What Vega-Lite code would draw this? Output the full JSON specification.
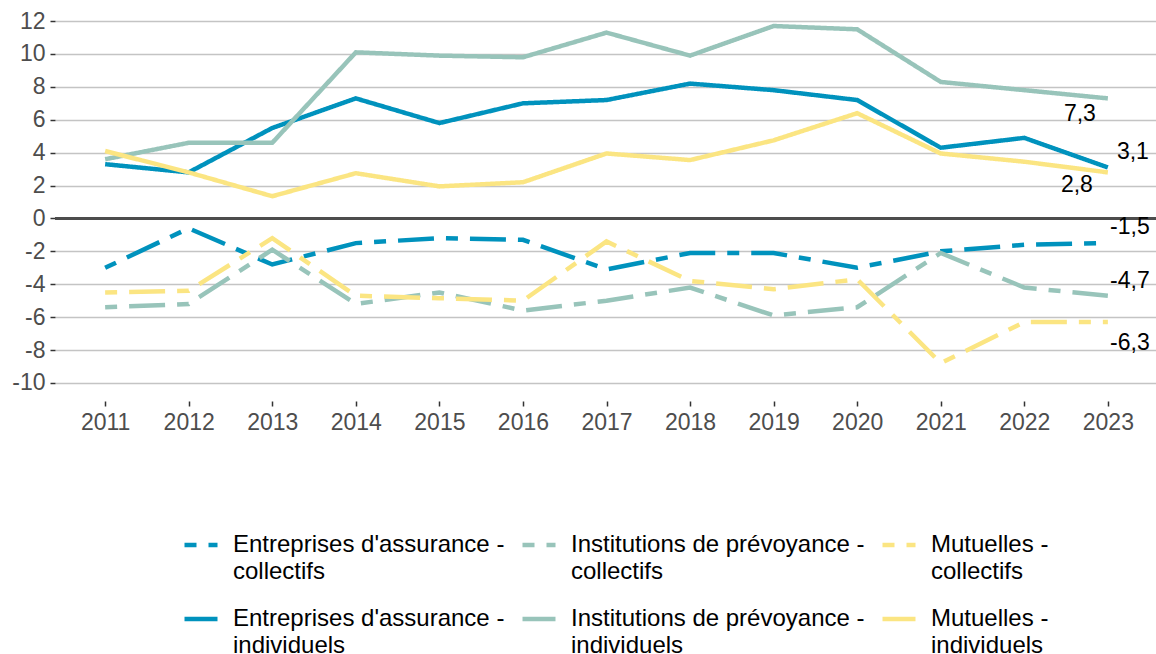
{
  "$schema": "https://vega.github.io/schema/vega-lite/v6.json",
  "width": 1103,
  "height": 398,
  "autosize": {"type": "none"},
  "padding": {"left": 55, "top": 3, "right": 0, "bottom": 253},
  "background": "white",
  "config": {
    "font": "Liberation Sans",
    "view": {"stroke": null},
    "axis": {"domain": false, "labelFont": "Liberation Sans", "labelColor": "#4D4D4D", "labelFontSize": 23, "tickColor": "#333333", "tickSize": 5, "tickWidth": 1.5, "titleFontSize": 0}
  },
  "datasets": {
    "d": [
      {"serie": "Entreprises d'assurance - collectifs", "annee": 2011, "valeur": -3.0},
      {"serie": "Entreprises d'assurance - collectifs", "annee": 2012, "valeur": -0.6},
      {"serie": "Entreprises d'assurance - collectifs", "annee": 2013, "valeur": -2.8},
      {"serie": "Entreprises d'assurance - collectifs", "annee": 2014, "valeur": -1.5},
      {"serie": "Entreprises d'assurance - collectifs", "annee": 2015, "valeur": -1.2},
      {"serie": "Entreprises d'assurance - collectifs", "annee": 2016, "valeur": -1.3},
      {"serie": "Entreprises d'assurance - collectifs", "annee": 2017, "valeur": -3.1},
      {"serie": "Entreprises d'assurance - collectifs", "annee": 2018, "valeur": -2.1},
      {"serie": "Entreprises d'assurance - collectifs", "annee": 2019, "valeur": -2.1},
      {"serie": "Entreprises d'assurance - collectifs", "annee": 2020, "valeur": -3.0},
      {"serie": "Entreprises d'assurance - collectifs", "annee": 2021, "valeur": -2.0},
      {"serie": "Entreprises d'assurance - collectifs", "annee": 2022, "valeur": -1.6},
      {"serie": "Entreprises d'assurance - collectifs", "annee": 2023, "valeur": -1.5},
      {"serie": "Institutions de prévoyance - collectifs", "annee": 2011, "valeur": -5.4},
      {"serie": "Institutions de prévoyance - collectifs", "annee": 2012, "valeur": -5.2},
      {"serie": "Institutions de prévoyance - collectifs", "annee": 2013, "valeur": -1.9},
      {"serie": "Institutions de prévoyance - collectifs", "annee": 2014, "valeur": -5.2},
      {"serie": "Institutions de prévoyance - collectifs", "annee": 2015, "valeur": -4.5},
      {"serie": "Institutions de prévoyance - collectifs", "annee": 2016, "valeur": -5.6},
      {"serie": "Institutions de prévoyance - collectifs", "annee": 2017, "valeur": -5.0},
      {"serie": "Institutions de prévoyance - collectifs", "annee": 2018, "valeur": -4.2},
      {"serie": "Institutions de prévoyance - collectifs", "annee": 2019, "valeur": -5.9},
      {"serie": "Institutions de prévoyance - collectifs", "annee": 2020, "valeur": -5.4},
      {"serie": "Institutions de prévoyance - collectifs", "annee": 2021, "valeur": -2.1},
      {"serie": "Institutions de prévoyance - collectifs", "annee": 2022, "valeur": -4.2},
      {"serie": "Institutions de prévoyance - collectifs", "annee": 2023, "valeur": -4.7},
      {"serie": "Mutuelles - collectifs", "annee": 2011, "valeur": -4.5},
      {"serie": "Mutuelles - collectifs", "annee": 2012, "valeur": -4.4},
      {"serie": "Mutuelles - collectifs", "annee": 2013, "valeur": -1.2},
      {"serie": "Mutuelles - collectifs", "annee": 2014, "valeur": -4.7},
      {"serie": "Mutuelles - collectifs", "annee": 2015, "valeur": -4.85},
      {"serie": "Mutuelles - collectifs", "annee": 2016, "valeur": -5.0},
      {"serie": "Mutuelles - collectifs", "annee": 2017, "valeur": -1.4},
      {"serie": "Mutuelles - collectifs", "annee": 2018, "valeur": -3.8},
      {"serie": "Mutuelles - collectifs", "annee": 2019, "valeur": -4.3},
      {"serie": "Mutuelles - collectifs", "annee": 2020, "valeur": -3.7},
      {"serie": "Mutuelles - collectifs", "annee": 2021, "valeur": -8.8},
      {"serie": "Mutuelles - collectifs", "annee": 2022, "valeur": -6.3},
      {"serie": "Mutuelles - collectifs", "annee": 2023, "valeur": -6.3},
      {"serie": "Entreprises d'assurance - individuels", "annee": 2011, "valeur": 3.3},
      {"serie": "Entreprises d'assurance - individuels", "annee": 2012, "valeur": 2.8},
      {"serie": "Entreprises d'assurance - individuels", "annee": 2013, "valeur": 5.5},
      {"serie": "Entreprises d'assurance - individuels", "annee": 2014, "valeur": 7.3},
      {"serie": "Entreprises d'assurance - individuels", "annee": 2015, "valeur": 5.8},
      {"serie": "Entreprises d'assurance - individuels", "annee": 2016, "valeur": 7.0},
      {"serie": "Entreprises d'assurance - individuels", "annee": 2017, "valeur": 7.2},
      {"serie": "Entreprises d'assurance - individuels", "annee": 2018, "valeur": 8.2},
      {"serie": "Entreprises d'assurance - individuels", "annee": 2019, "valeur": 7.8},
      {"serie": "Entreprises d'assurance - individuels", "annee": 2020, "valeur": 7.2},
      {"serie": "Entreprises d'assurance - individuels", "annee": 2021, "valeur": 4.3},
      {"serie": "Entreprises d'assurance - individuels", "annee": 2022, "valeur": 4.9},
      {"serie": "Entreprises d'assurance - individuels", "annee": 2023, "valeur": 3.1},
      {"serie": "Institutions de prévoyance - individuels", "annee": 2011, "valeur": 3.6},
      {"serie": "Institutions de prévoyance - individuels", "annee": 2012, "valeur": 4.6},
      {"serie": "Institutions de prévoyance - individuels", "annee": 2013, "valeur": 4.6},
      {"serie": "Institutions de prévoyance - individuels", "annee": 2014, "valeur": 10.1},
      {"serie": "Institutions de prévoyance - individuels", "annee": 2015, "valeur": 9.9},
      {"serie": "Institutions de prévoyance - individuels", "annee": 2016, "valeur": 9.8},
      {"serie": "Institutions de prévoyance - individuels", "annee": 2017, "valeur": 11.3},
      {"serie": "Institutions de prévoyance - individuels", "annee": 2018, "valeur": 9.9},
      {"serie": "Institutions de prévoyance - individuels", "annee": 2019, "valeur": 11.7},
      {"serie": "Institutions de prévoyance - individuels", "annee": 2020, "valeur": 11.5},
      {"serie": "Institutions de prévoyance - individuels", "annee": 2021, "valeur": 8.3},
      {"serie": "Institutions de prévoyance - individuels", "annee": 2022, "valeur": 7.8},
      {"serie": "Institutions de prévoyance - individuels", "annee": 2023, "valeur": 7.3},
      {"serie": "Mutuelles - individuels", "annee": 2011, "valeur": 4.1},
      {"serie": "Mutuelles - individuels", "annee": 2012, "valeur": 2.8},
      {"serie": "Mutuelles - individuels", "annee": 2013, "valeur": 1.35},
      {"serie": "Mutuelles - individuels", "annee": 2014, "valeur": 2.75},
      {"serie": "Mutuelles - individuels", "annee": 2015, "valeur": 1.95},
      {"serie": "Mutuelles - individuels", "annee": 2016, "valeur": 2.2},
      {"serie": "Mutuelles - individuels", "annee": 2017, "valeur": 3.95},
      {"serie": "Mutuelles - individuels", "annee": 2018, "valeur": 3.55},
      {"serie": "Mutuelles - individuels", "annee": 2019, "valeur": 4.75},
      {"serie": "Mutuelles - individuels", "annee": 2020, "valeur": 6.4},
      {"serie": "Mutuelles - individuels", "annee": 2021, "valeur": 3.95},
      {"serie": "Mutuelles - individuels", "annee": 2022, "valeur": 3.45},
      {"serie": "Mutuelles - individuels", "annee": 2023, "valeur": 2.8}
    ]
  },
  "data": {"name": "d"},
  "encoding": {
    "x": {"field": "annee", "type": "ordinal", "scale": {"type": "point", "padding": 0.6}, "axis": {"title": null, "grid": false, "labelAngle": 0, "labelPadding": 5}},
    "y": {"field": "valeur", "type": "quantitative", "scale": {"domain": [-11.1, 13.1], "nice": false, "zero": false}, "axis": {"title": null, "values": [-10, -8, -6, -4, -2, 0, 2, 4, 6, 8, 10, 12], "grid": true, "gridColor": "#C4C4C4", "gridWidth": 1.6, "labelPadding": 5, "labelExpr": "toString(datum.value)"}}
  },
  "layer": [
    {
      "mark": {"type": "rule", "color": "#4D4D4D", "strokeWidth": 1.8},
      "encoding": {"y": {"datum": 0}, "x": null}
    },
    {
      "mark": {"type": "line", "strokeWidth": 4.5, "strokeCap": "butt"},
      "encoding": {
        "detail": {"field": "serie"},
        "color": {
          "field": "serie", "type": "nominal",
          "scale": {
            "domain": ["Entreprises d'assurance - collectifs", "Institutions de prévoyance - collectifs", "Mutuelles - collectifs", "Entreprises d'assurance - individuels", "Institutions de prévoyance - individuels", "Mutuelles - individuels"],
            "range": ["#0092BD", "#98C4BA", "#FBE582", "#0092BD", "#98C4BA", "#FBE582"]
          },
          "legend": {
            "title": null, "orient": "none", "legendX": 127, "legendY": 523, "columns": 3, "direction": "horizontal",
            "symbolType": "stroke", "symbolSize": 1089, "symbolStrokeWidth": 4.5,
            "labelFont": "Liberation Sans", "labelFontSize": 24, "labelColor": "#000000", "labelLimit": 400, "labelOffset": 13,
            "labelBaseline": "top", "columnPadding": 8, "rowPadding": 16, "padding": 0,
            "labelExpr": "[split(datum.label, ' - ')[0] + ' -', split(datum.label, ' - ')[1]]",
            "encode": {"labels": {"update": {"lineHeight": {"value": 27}, "dy": {"value": -12}}}}
          }
        },
        "strokeDash": {
          "field": "serie", "type": "nominal",
          "scale": {
            "domain": ["Entreprises d'assurance - collectifs", "Institutions de prévoyance - collectifs", "Mutuelles - collectifs", "Entreprises d'assurance - individuels", "Institutions de prévoyance - individuels", "Mutuelles - individuels"],
            "range": [[12, 12, 36, 12], [12, 12, 36, 12], [12, 12, 36, 12], [1, 0], [1, 0], [1, 0]]
          }
        }
      }
    },
    {
      "transform": [{"filter": "datum.annee == 2023 && datum.serie == 'Institutions de prévoyance - individuels'"}, {"calculate": "replace(toString(datum.valeur), '.', ',')", "as": "lab"}],
      "mark": {"type": "text", "fontSize": 23, "color": "#000000", "dx": -28, "dy": 16},
      "encoding": {"text": {"field": "lab"}}
    },
    {
      "transform": [{"filter": "datum.annee == 2023 && datum.serie == 'Entreprises d\\'assurance - individuels'"}, {"calculate": "replace(toString(datum.valeur), '.', ',')", "as": "lab"}],
      "mark": {"type": "text", "fontSize": 23, "color": "#000000", "dx": 25, "dy": -15},
      "encoding": {"text": {"field": "lab"}}
    },
    {
      "transform": [{"filter": "datum.annee == 2023 && datum.serie == 'Mutuelles - individuels'"}, {"calculate": "replace(toString(datum.valeur), '.', ',')", "as": "lab"}],
      "mark": {"type": "text", "fontSize": 23, "color": "#000000", "dx": -31, "dy": 13},
      "encoding": {"text": {"field": "lab"}}
    },
    {
      "transform": [{"filter": "datum.annee == 2023 && datum.serie == 'Entreprises d\\'assurance - collectifs'"}, {"calculate": "replace(toString(datum.valeur), '.', ',')", "as": "lab"}],
      "mark": {"type": "text", "fontSize": 23, "color": "#000000", "dx": 22, "dy": -16},
      "encoding": {"text": {"field": "lab"}}
    },
    {
      "transform": [{"filter": "datum.annee == 2023 && datum.serie == 'Institutions de prévoyance - collectifs'"}, {"calculate": "replace(toString(datum.valeur), '.', ',')", "as": "lab"}],
      "mark": {"type": "text", "fontSize": 23, "color": "#000000", "dx": 22, "dy": -15},
      "encoding": {"text": {"field": "lab"}}
    },
    {
      "transform": [{"filter": "datum.annee == 2023 && datum.serie == 'Mutuelles - collectifs'"}, {"calculate": "replace(toString(datum.valeur), '.', ',')", "as": "lab"}],
      "mark": {"type": "text", "fontSize": 23, "color": "#000000", "dx": 22, "dy": 21},
      "encoding": {"text": {"field": "lab"}}
    }
  ]
}
